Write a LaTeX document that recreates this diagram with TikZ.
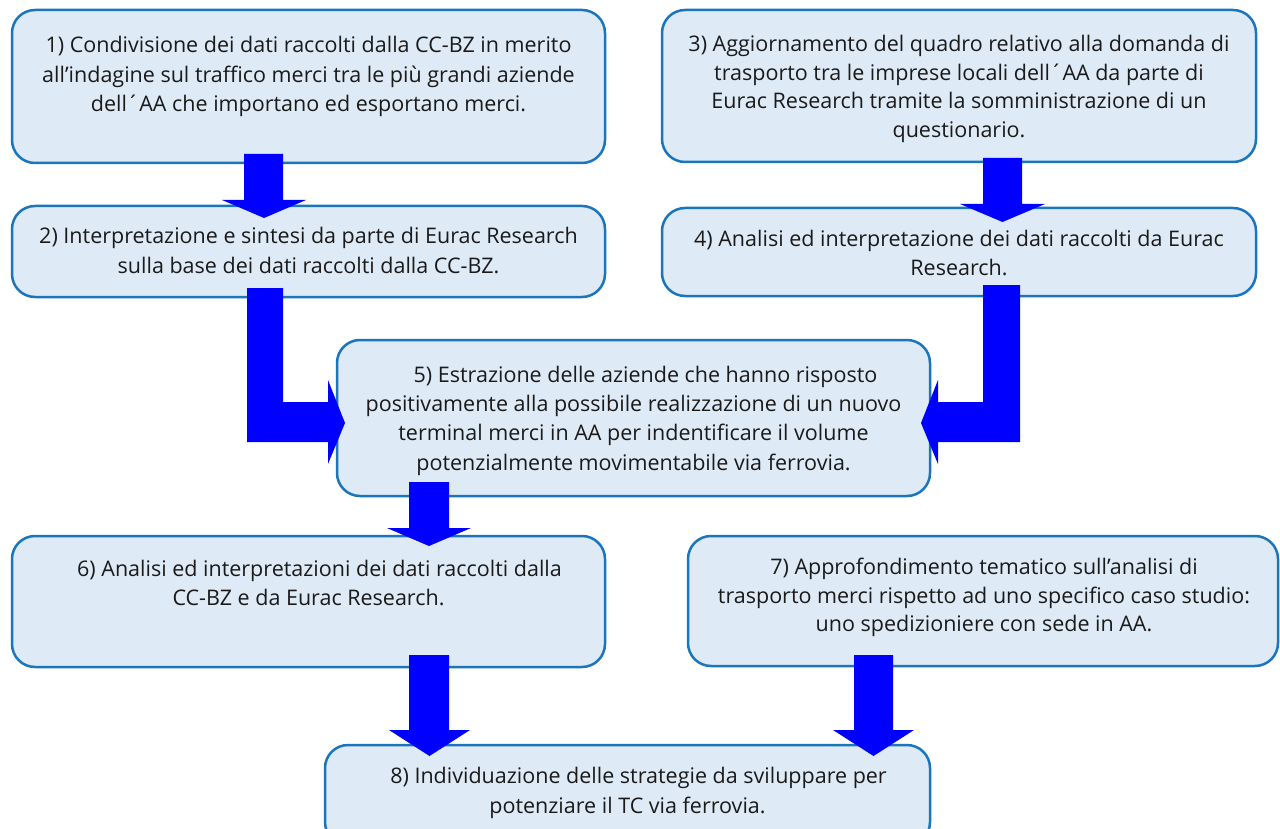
\documentclass[tikz,border=0pt]{standalone}
\usepackage{fontspec}
\setmainfont{Open Sans}
\definecolor{boxfill}{HTML}{DEEAF6}
\definecolor{boxline}{HTML}{1B75BC}
\definecolor{arrowblue}{HTML}{0000FF}
\definecolor{txt}{HTML}{1A1A1A}
\tikzset{
  stepbox/.style={draw=boxline, line width=2.5pt, fill=boxfill, rounded corners=23pt, anchor=north west, inner sep=0pt, outer sep=0pt},
  steptext/.style={anchor=base, inner sep=0pt, align=center, text=txt, font=\fontsize{21.5}{29.5}\selectfont},
  blockarrow/.style={fill=arrowblue, draw=none},
}
% x1 x2 ytop ybase hx1 hx2 ytip
\newcommand\downblock[7]{%
  \fill[blockarrow] (#1,#3) -- (#2,#3) -- (#2,#4) -- (#6,#4) -- ({(#5+#6)/2},#7) -- (#5,#4) -- (#1,#4) -- cycle;}
\begin{document}
\begin{tikzpicture}[x=1pt,y=-1pt]
\useasboundingbox (0,0) rectangle (1280,829);
% boxes
\node[stepbox, minimum width=593pt, minimum height=153pt] (b1) at (12,10) {};
\node[stepbox, minimum width=594pt, minimum height=152pt] (b3) at (662,10) {};
\node[stepbox, minimum width=593pt, minimum height=91pt] (b2) at (12,206) {};
\node[stepbox, minimum width=594pt, minimum height=88pt] (b4) at (662,208) {};
\node[stepbox, minimum width=593pt, minimum height=156pt] (b5) at (337,340) {};
\node[stepbox, minimum width=593pt, minimum height=131pt] (b6) at (12,536) {};
\node[stepbox, minimum width=590pt, minimum height=130pt] (b7) at (688,536) {};
\node[stepbox, minimum width=605pt, minimum height=100pt] (b8) at (325,745) {};
% texts (anchor = baseline of last line)
\node[steptext] (t1) at (308.5,112) {1) Condivisione dei dati raccolti dalla CC-BZ in merito\\all’indagine sul traffico merci tra le più grandi aziende\\dell´AA che importano ed esportano merci.};
\node[steptext] (t2) at (308.5,273) {2) Interpretazione e sintesi da parte di Eurac Research\\sulla base dei dati raccolti dalla CC-BZ.};
\node[steptext, font=\fontsize{21.5}{28.5}\selectfont] (t3) at (959,137.5) {3) Aggiornamento del quadro relativo alla domanda di\\trasporto tra le imprese locali dell´AA da parte di\\Eurac Research tramite la somministrazione di un\\questionario.};
\node[steptext, font=\fontsize{21.5}{28.5}\selectfont] (t4) at (959,275.5) {4) Analisi ed interpretazione dei dati raccolti da Eurac\\Research.};
\node[steptext, font=\fontsize{21.5}{29.3}\selectfont] (t5) at (633.5,470) {\hspace*{24pt}5) Estrazione delle aziende che hanno risposto\\positivamente alla possibile realizzazione di un nuovo\\terminal merci in AA per indentificare il volume\\potenzialmente movimentabile via ferrovia.};
\node[steptext] (t6) at (308.5,605.5) {\hspace*{22pt}6) Analisi ed interpretazioni dei dati raccolti dalla\\CC-BZ e da Eurac Research.};
\node[steptext, font=\fontsize{21.5}{28.5}\selectfont] (t7) at (984,631.5) {7) Approfondimento tematico sull’analisi di\\trasporto merci rispetto ad uno specifico caso studio:\\uno spedizioniere con sede in AA.};
\node[steptext] (t8) at (627.5,813) {\hspace*{22pt}8) Individuazione delle strategie da sviluppare per\\potenziare il TC via ferrovia.};
% block arrows between boxes
\downblock{244}{283}{154}{200}{222}{306}{218}
\downblock{983}{1022}{158}{204}{960}{1045}{222}
\downblock{409}{449}{482}{528}{387}{471}{546}
\downblock{409}{449}{655}{730}{389}{470}{756}
\downblock{854}{893}{655}{730}{833}{914}{756}
% L-shaped arrows into box 5
\fill[blockarrow] (247,288) -- (283,288) -- (283,402) -- (328,402) -- (328,380) -- (345,423) -- (328,464) -- (328,442) -- (247,442) -- cycle;
\fill[blockarrow] (1020,285) -- (983,285) -- (983,402) -- (938,402) -- (938,380) -- (921,423) -- (938,464) -- (938,442) -- (1020,442) -- cycle;
\end{tikzpicture}
\end{document}
